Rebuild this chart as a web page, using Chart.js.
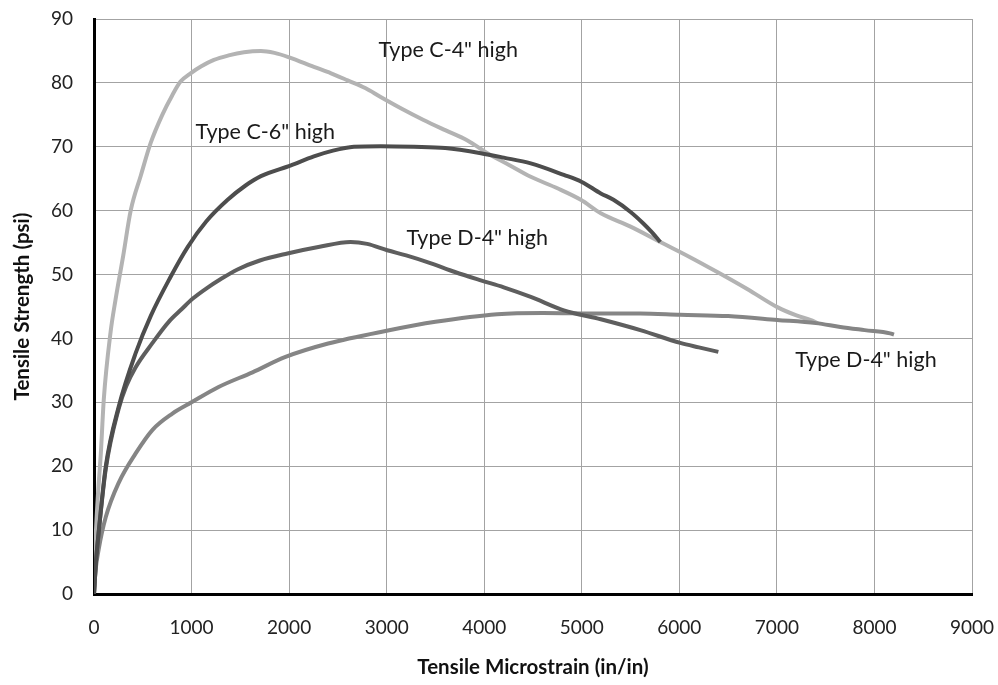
<!DOCTYPE html>
<html>
<head>
<meta charset="utf-8">
<script src="https://cdn.jsdelivr.net/npm/chart.js@4.4.1/dist/chart.umd.min.js"></script>
<style>
  html, body { margin: 0; padding: 0; background: #ffffff; }
  #wrap { width: 998px; height: 685px; }
</style>
</head>
<body>
<div id="wrap"><canvas id="chart" width="998" height="685"></canvas></div>
<script>
// Type C, 4" high specimen
const c4Strain = [0, 15, 37, 70, 100, 170, 220, 300, 376, 480, 581, 700, 800, 887, 990, 1100, 1229, 1380, 1537, 1711, 1850, 2000, 2254, 2430, 2600, 2780, 2938, 3150, 3378, 3600, 3828, 4033, 4250, 4477, 4750, 4990, 5195, 5500, 5805, 6100, 6389, 6700, 7004, 7200, 7342, 7420];
const c4Stress = [0, 8, 14.7, 22, 30.4, 41, 46, 53, 60, 65.5, 70.6, 75, 78, 80.2, 81.5, 82.6, 83.6, 84.3, 84.8, 85, 84.7, 84, 82.5, 81.5, 80.4, 79.2, 77.8, 76, 74.2, 72.6, 71, 69, 67.2, 65.3, 63.5, 61.7, 59.6, 57.5, 55.1, 52.8, 50.4, 47.7, 44.9, 43.6, 42.9, 42.4];

// Type C, 6" high specimen
const c6Strain = [0, 20, 47, 120, 253, 427, 581, 780, 960, 1150, 1370, 1550, 1711, 2019, 2254, 2450, 2664, 2940, 3279, 3600, 3965, 4200, 4477, 4816, 5000, 5195, 5325, 5500, 5631, 5720, 5805];
const c6Stress = [0, 5, 9.5, 19.9, 29.3, 37.7, 43.5, 49.5, 54.3, 58.3, 61.7, 63.9, 65.4, 67.1, 68.5, 69.4, 70, 70.1, 70, 69.8, 69, 68.3, 67.4, 65.6, 64.5, 62.7, 61.7, 59.8, 58, 56.6, 55.1];

// Type D, 4" high specimen (first test)
const d4aStrain = [0, 20, 47, 120, 253, 330, 427, 600, 766, 900, 1010, 1150, 1300, 1471, 1700, 1983, 2300, 2630, 2800, 3006, 3200, 3447, 3700, 3965, 4200, 4477, 4816, 5195, 5600, 6010, 6200, 6400];
const d4aStress = [0, 5, 9.5, 19.5, 29, 32.5, 35.5, 39.3, 42.6, 44.6, 46.2, 47.8, 49.3, 50.8, 52.2, 53.3, 54.3, 55.1, 54.8, 53.8, 53, 51.8, 50.4, 49.1, 48, 46.5, 44.4, 43, 41.3, 39.3, 38.6, 37.9];

// Type D, 4" high specimen (second test)
const d4bStrain = [0, 15, 47, 120, 253, 427, 600, 800, 1000, 1277, 1625, 1963, 2400, 3000, 3500, 4133, 4600, 5191, 5600, 6010, 6500, 7004, 7400, 7650, 7900, 8160, 8200];
const d4bStress = [0, 3.5, 6.9, 12, 17.4, 22, 25.7, 28.2, 30, 32.4, 34.7, 37.1, 39.2, 41.2, 42.6, 43.8, 44, 43.9, 43.9, 43.7, 43.5, 42.9, 42.4, 41.8, 41.3, 40.8, 40.6];

// Curve labels, anchored in data units (left edge, vertical middle)
const curveLabels = ['Type C-4" high', 'Type C-6" high', 'Type D-4" high', 'Type D-4" high'];
const labelStrain = [2916, 1041, 3203, 7188];
const labelStress = [85.1, 72.3, 55.7, 36.6];

const xTicks = [0, 1000, 2000, 3000, 4000, 5000, 6000, 7000, 8000, 9000];
const yTicks = [0, 10, 20, 30, 40, 50, 60, 70, 80, 90];

function pts(xs, ys) { return xs.map((x, i) => ({ x: x, y: ys[i] })); }

function series(xs, ys, color, order) {
  return {
    data: pts(xs, ys),
    borderColor: color,
    backgroundColor: color,
    borderWidth: 4,
    pointRadius: 0,
    cubicInterpolationMode: 'monotone',
    showLine: true,
    fill: false,
    order: order
  };
}

const FONT = 'Lato, "Open Sans", sans-serif';

const curveLabelPlugin = {
  id: 'curveLabels',
  afterDatasetsDraw(chart) {
    const { ctx, scales } = chart;
    ctx.save();
    ctx.font = '21.5px ' + FONT;
    ctx.fillStyle = '#1a1a1a';
    ctx.textAlign = 'left';
    ctx.textBaseline = 'middle';
    curveLabels.forEach((t, i) => {
      ctx.fillText(t, scales.x.getPixelForValue(labelStrain[i]), scales.y.getPixelForValue(labelStress[i]));
    });
    ctx.restore();
  }
};

new Chart(document.getElementById('chart'), {
  type: 'scatter',
  data: {
    datasets: [
      series(c4Strain, c4Stress, '#b3b3b3', 4),
      series(c6Strain, c6Stress, '#4d4d4d', 1),
      series(d4aStrain, d4aStress, '#5e5e5e', 2),
      series(d4bStrain, d4bStress, '#858585', 3)
    ]
  },
  options: {
    responsive: false,
    animation: false,
    layout: { padding: { left: 0, right: 26, top: 19, bottom: 0 } },
    plugins: { legend: { display: false }, tooltip: { enabled: false } },
    scales: {
      x: {
        type: 'linear',
        min: 0, max: 9000,
        afterBuildTicks(scale) { scale.ticks = xTicks.map(v => ({ value: v })); },
        afterFit(scale) { scale.height = 91; scale.paddingLeft = 0; scale.paddingRight = 0; },
        grid: { color: '#a3a3a3', lineWidth: 1, tickLength: 0, drawTicks: false },
        border: { color: '#000000', width: 3 },
        ticks: { color: '#222222', padding: 22, font: { family: FONT, size: 19 }, maxRotation: 0,
                 callback: v => String(v) },
        title: { display: true, text: 'Tensile Microstrain (in/in)', color: '#111111',
                 font: { family: FONT, size: 20.5, weight: 'bold' }, padding: { top: 0, bottom: 5 } }
      },
      y: {
        type: 'linear',
        min: 0, max: 90,
        afterBuildTicks(scale) { scale.ticks = yTicks.map(v => ({ value: v })); },
        afterFit(scale) { scale.width = 94; scale.paddingTop = 0; scale.paddingBottom = 0; },
        grid: { color: '#a3a3a3', lineWidth: 1, tickLength: 0, drawTicks: false },
        border: { color: '#000000', width: 3 },
        ticks: { color: '#222222', padding: 21, font: { family: FONT, size: 19 },
                 callback: v => String(v) },
        title: { display: true, text: 'Tensile Strength (psi)', color: '#111111',
                 font: { family: FONT, size: 20.5, weight: 'bold' }, padding: { top: 10, bottom: 0 } }
      }
    }
  },
  plugins: [curveLabelPlugin]
});
</script>
</body>
</html>
